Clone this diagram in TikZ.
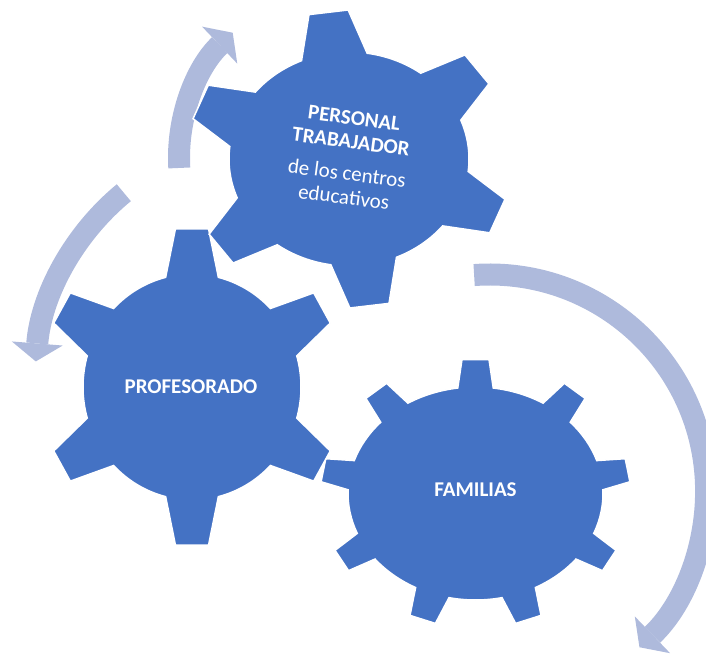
\documentclass[tikz,border=0pt]{standalone}
\usepackage{fontspec}
\setmainfont{Carlito}
\usetikzlibrary{arrows.meta}

\definecolor{gearblue}{RGB}{68,114,196}
\definecolor{arrowblue}{RGB}{174,186,220}

\tikzset{
  gearbody/.style={fill=gearblue, draw=white, line width=1.5pt, line join=miter},
  gearlabel/.style={text=white, font=\fontsize{21}{24}\selectfont, align=center, inner sep=0pt},
  cyclearrow/.style={draw=arrowblue, line width=22pt, -{Triangle[length=18pt, width=51pt, line width=0pt]}}
}

% gear: centre, teeth, rotation, body rx, body ry, outer rx, outer ry, base half angle, tip half angle
\newcommand{\gear}[9]{%
  \pgfmathsetmacro{\gstep}{360/#2}
  \begin{scope}[shift={#1}]
    \path[gearbody] ({#3+#8}:#4 and #5)
      \foreach \k in {1,...,#2}{
        arc[start angle={#3+(\k-1)*\gstep+#8}, end angle={#3+\k*\gstep-#8}, x radius=#4, y radius=#5]
        -- ({#3+\k*\gstep-#9}:#6 and #7)
        -- ({#3+\k*\gstep+#9}:#6 and #7)
        -- ({#3+\k*\gstep+#8}:#4 and #5)
      } -- cycle;
  \end{scope}}

\begin{document}
\begin{tikzpicture}[x=1pt, y=1pt]
  \useasboundingbox (0,0) rectangle (706,653);

  % Turning arrows
  \coordinate (turn1) at (352,495);
  \coordinate (turn2) at (279,272);
  \coordinate (turn3) at (489.6,162);
  \draw[cyclearrow] ([shift={(turn1)}]183.3:173) arc[start angle=183.3, end angle=133.6, radius=173];
  \draw[cyclearrow] ([shift={(turn2)}]129.5:244) arc[start angle=129.5, end angle=175.4, radius=244];
  \draw[cyclearrow] ([shift={(turn3)}]94.1:216.5) arc[start angle=94.1, end angle=-46.2, radius=216.5];

  % Gears
  \gear{(475.5,159.5)}{9}{90}{127.5}{106.5}{155}{134.5}{8}{5}
  \gear{(192,266)}{6}{90}{109}{113}{151}{159}{14}{6.3}
  \gear{(349,494)}{6}{97.3}{120}{107}{162}{149}{16}{7}

  % Labels
  \node[gearlabel, rotate=-7.5] (personal) at (349,495.3)
    {\textbf{PERSONAL}\\\textbf{TRABAJADOR}\\[8pt]de los centros\\educativos};
  \node[gearlabel] (profesorado) at (191,266) {\textbf{PROFESORADO}};
  \node[gearlabel] (familias) at (475.5,163) {\textbf{FAMILIAS}};
\end{tikzpicture}
\end{document}
